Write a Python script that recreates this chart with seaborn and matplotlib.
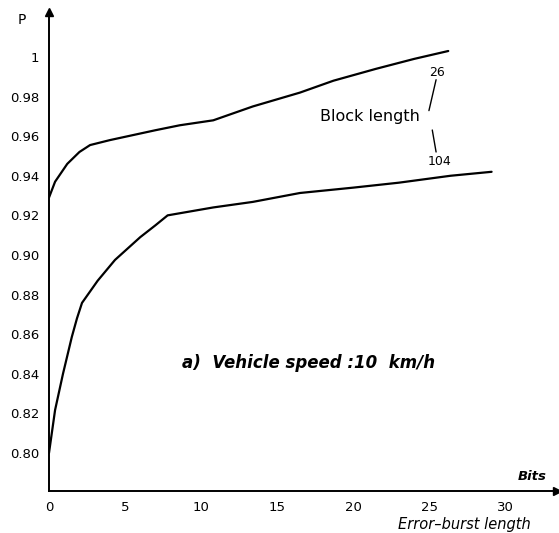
import matplotlib
matplotlib.use("Agg")
import matplotlib.pyplot as plt
import seaborn as sns
import pandas as pd
import numpy as np

# Data
bits_26 = [0.0, 0.4, 1.2, 2.0, 2.7, 4.0, 5.5, 7.0, 8.6, 10.8, 13.4, 16.5, 18.7, 21.5, 24.0, 26.25]
p_26 = [0.929, 0.937, 0.946, 0.952, 0.9555, 0.958, 0.9605, 0.963, 0.9655, 0.968, 0.975, 0.982, 0.988, 0.994, 0.999, 1.003]

bits_104 = [0.0, 0.4, 0.92, 1.5, 1.84, 2.17, 3.2, 4.34, 6.0, 7.0, 7.8, 10.8, 13.4, 16.5, 20.0, 23.0, 26.4, 29.1]
p_104 = [0.800, 0.8217, 0.840, 0.8586, 0.868, 0.8758, 0.887, 0.8975, 0.909, 0.915, 0.920, 0.924, 0.9268, 0.9313, 0.934, 0.9365, 0.940, 0.942]

x_ticks = [0, 5, 10, 15, 20, 25, 30]
y_ticks = [0.80, 0.82, 0.84, 0.86, 0.88, 0.90, 0.92, 0.94, 0.96, 0.98, 1.00]
y_ticklabels = ["0.80", "0.82", "0.84", "0.86", "0.88", "0.90", "0.92", "0.94", "0.96", "0.98", "1"]

df = pd.concat([
    pd.DataFrame({"bits": bits_26, "P": p_26, "block": "26"}),
    pd.DataFrame({"bits": bits_104, "P": p_104, "block": "104"}),
])

sns.set_style("white")
plt.rcParams["font.family"] = ["DejaVu Sans"]
plt.rcParams["text.color"] = "black"
plt.rcParams["xtick.color"] = "black"
plt.rcParams["ytick.color"] = "black"
plt.rcParams["xtick.labelcolor"] = "black"
plt.rcParams["ytick.labelcolor"] = "black"

W, H = 559, 533
fig = plt.figure(figsize=(W / 100, H / 100), dpi=100)
ax = fig.add_axes([49 / W, 1 - 491 / H, (557 - 49) / W, (491 - 12) / H])

sns.lineplot(data=df, x="bits", y="P", hue="block", palette={"26": "black", "104": "black"},
             ax=ax, legend=False, linewidth=1.6, sort=False, estimator=None)

ax.set_xlim(0, 33.4)
ax.set_ylim(0.7808, 1.0227)
ax.set_xticks(x_ticks)
ax.set_xticklabels([str(t) for t in x_ticks], fontsize=9.5)
ax.set_yticks(y_ticks)
ax.set_yticklabels(y_ticklabels, fontsize=9.5)
ax.tick_params(axis="both", direction="out", length=3, width=1, color="black", pad=4)
ax.set_xlabel("")
ax.set_ylabel("")

for s in ["top", "right"]:
    ax.spines[s].set_visible(False)
for s in ["left", "bottom"]:
    ax.spines[s].set_linewidth(1.4)
    ax.spines[s].set_color("black")

# axis arrows
ax.plot(1, 0, ">k", transform=ax.transAxes, clip_on=False, markersize=6)
ax.plot(0, 1, "^k", transform=ax.transAxes, clip_on=False, markersize=6)

# axis labels
fig.text(22 / W, 1 - 20 / H, "P", fontsize=10, ha="center", va="center")
fig.text(532 / W, 1 - 477 / H, "Bits", fontsize=9.5, ha="center", va="center",
         style="italic", weight="bold")
fig.text(464 / W, 1 - 524 / H, "Error\u2013burst length", fontsize=10.5, ha="center",
         va="center", style="italic")

# annotations
ax.text(17.8, 0.9697, "Block length", fontsize=11.5, ha="left", va="center")
ax.text(25.5, 0.992, "26", fontsize=9, ha="center", va="center")
ax.text(25.7, 0.947, "104", fontsize=9, ha="center", va="center")
ax.plot([25.45, 24.98], [0.9885, 0.9729], color="black", lw=1)
ax.plot([25.2, 25.45], [0.9631, 0.952], color="black", lw=1)

ax.text(8.75, 0.8455, "a)  Vehicle speed :10  km/h", fontsize=12, ha="left",
        va="center", style="italic", weight="bold")

fig.savefig("out.png", dpi=100)
